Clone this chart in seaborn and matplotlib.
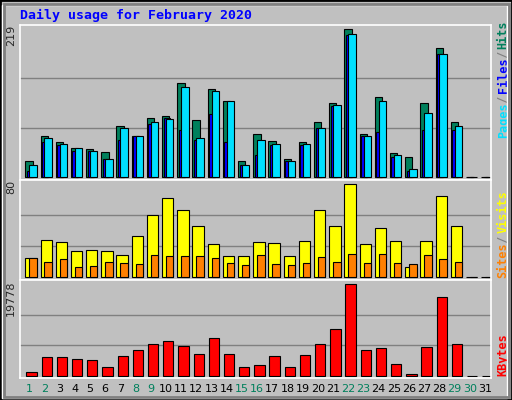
import numpy as np
import seaborn as sns
import matplotlib.pyplot as plt
from matplotlib.patches import Rectangle

sns.set_theme(style="white")
plt.rcParams['font.family'] = ['DejaVu Sans Mono', 'DejaVu Sans']

days = list(range(1, 32))
hits = [23, 61, 51, 42, 41, 36, 75, 61, 87, 90, 139, 84, 130, 113, 23, 64, 53, 27, 51, 81, 109, 219, 64, 119, 35, 29, 110, 191, 82, 0, 0]
files = [18, 57, 48, 42, 38, 27, 73, 61, 81, 85, 133, 58, 127, 112, 18, 55, 48, 24, 48, 73, 106, 212, 61, 112, 32, 12, 94, 183, 76, 0, 0]
pages = [8, 51, 47, 38, 38, 26, 54, 60, 78, 87, 70, 55, 93, 51, 18, 32, 47, 23, 47, 73, 105, 210, 61, 67, 29, 9, 69, 182, 70, 0, 0]
visits = [16, 32, 30, 22, 23, 22, 19, 35, 53, 68, 58, 44, 28, 18, 18, 30, 29, 18, 31, 58, 44, 80, 28, 42, 31, 8, 31, 70, 44, 0, 0]
sites = [16, 13, 15, 8, 9, 13, 12, 11, 19, 18, 18, 18, 16, 12, 10, 19, 11, 10, 12, 17, 13, 20, 12, 20, 12, 11, 19, 15, 13, 0, 0]
kbytes = [722, 3970, 3970, 3537, 3320, 1804, 4186, 5486, 6785, 7435, 6352, 4620, 8084, 4620, 1804, 2238, 4186, 1804, 4403, 6785, 10033, 19778, 5486, 5919, 2454, 290, 6135, 16962, 6785, 0, 0]
weekends = [1, 2, 8, 9, 15, 16, 22, 23, 29, 30]

GRAY = "#C0C0C0"
W, H = 512, 400
fig = plt.figure(figsize=(W / 100, H / 100), dpi=100, facecolor=GRAY)
fig.patches.append(Rectangle((0, 0), 1, 1, transform=fig.transFigure, fill=False,
                             edgecolor="black", linewidth=2))
fig.patches.append(Rectangle((2 / W, 2 / H), 1 - 7 / W, 1 - 7 / H, transform=fig.transFigure,
                             fill=False, edgecolor="white", linewidth=1))
fig.patches.append(Rectangle((4 / W, 3 / H), 1 - 7 / W, 1 - 7 / H, transform=fig.transFigure,
                             fill=False, edgecolor="#808080", linewidth=2))


def make_ax(top, bottom):
    ax = fig.add_axes([20 / W, 1 - bottom / H, 471 / W, (bottom - top) / H])
    ax.set_facecolor(GRAY)
    ax.set_xlim(0.5, 31.5)
    ax.set_xticks([])
    ax.set_yticks([])
    for s in ax.spines.values():
        s.set_color("white")
        s.set_linewidth(1.2)
    return ax


x = np.array(days)
edge = dict(edgecolor="black", linewidth=0.8, align="edge")

# top panel
ax1 = make_ax(25, 180)
ax1.set_ylim(-4.9, 225.4)
for g in (73, 146):
    ax1.axhline(g, color="#808080", lw=1, zorder=0)
ax1.bar(x - 0.15, hits, width=0.48, color="#00805C", **edge)
ax1.bar(x - 0.05, pages, width=0.4, color="#0000FF", **edge)
ax1.bar(x + 0.11, files, width=0.49, color="#00E0FF", **edge)

# middle panel
ax2 = make_ax(180, 280)
ax2.set_ylim(-2.9, 83.7)
for g in (26.7, 53.3):
    ax2.axhline(g, color="#808080", lw=1, zorder=0)
ax2.bar(x - 0.15, visits, width=0.75, color="#FFFF00", **edge)
ax2.bar(x + 0.11, sites, width=0.49, color="#FF8000", **edge)

# bottom panel
ax3 = make_ax(280, 378)
ax3.set_ylim(-19778 * 2.3 / 91.4, 19778 * (1 + 4.3 / 91.4))
for g in (19778 / 3, 19778 * 2 / 3):
    ax3.axhline(g, color="#808080", lw=1, zorder=0)
ax3.bar(x - 0.08, kbytes, width=0.68, color="#FF0000", **edge)

for d in days:
    ax3.text(d + 0.1, -0.06, str(d), transform=ax3.get_xaxis_transform(), ha="center", va="top",
             fontsize=8, color="#00805C" if d in weekends else "black", family="DejaVu Sans")

# max labels
for ax, lab in ((ax1, "219"), (ax2, "80"), (ax3, "19778")):
    ax.text(-0.008, 1.0, lab, transform=ax.transAxes, rotation=90, ha="right", va="top",
            fontsize=8, family="DejaVu Sans")

# right labels
def side(ax, parts, start, step):
    y = start
    for t, c in parts:
        ax.text(1.012, y, t, transform=ax.transAxes, rotation=90, ha="left", va="bottom",
                fontsize=8.5, color=c, fontweight="bold")
        y += len(t) * step / (ax.get_position().height * H)

side(ax1, [("Pages", "#00E0FF"), (" / ", "#808080"), ("Files", "#0000FF"),
           (" / ", "#808080"), ("Hits", "#00805C")], 0.27, 5.6)
side(ax2, [("Sites", "#FF8000"), (" / ", "#808080"), ("Visits", "#FFFF00")], 0.02, 5.6)
side(ax3, [("KBytes", "#FF0000")], 0.02, 5.6)

fig.text(20 / W, 1 - 15 / H, "Daily usage for February 2020", color="#0000FF",
         fontsize=9.5, fontweight="bold", va="center")

fig.savefig("out.png", dpi=100, facecolor=GRAY)
